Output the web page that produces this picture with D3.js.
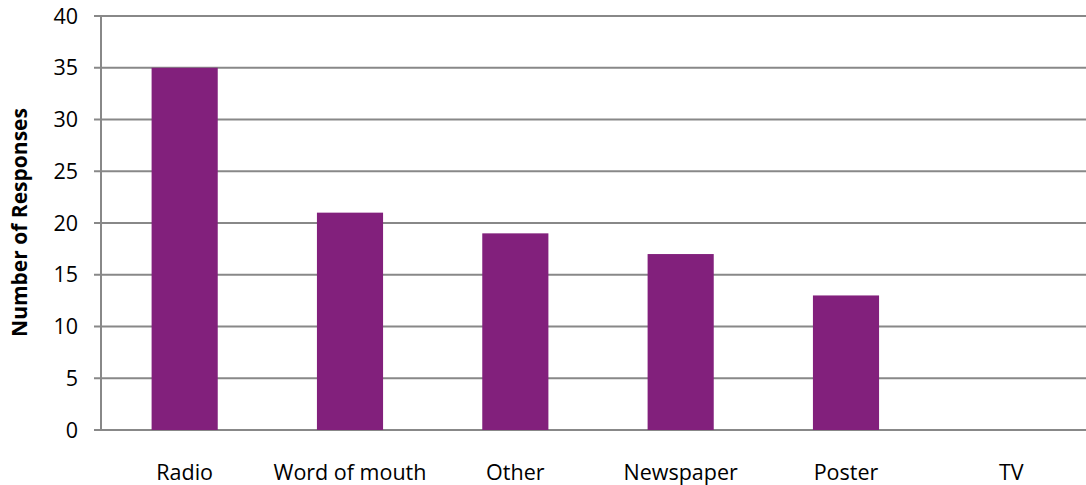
<!DOCTYPE html>
<html><head><meta charset="utf-8">
<script src="https://cdn.jsdelivr.net/npm/d3@7"></script>
<style>body{margin:0;background:#fff}svg{display:block}text{font-family:"Open Sans",sans-serif}</style>
</head><body>
<svg id="c" width="1086" height="485"></svg>
<script>
const categories = ["Radio","Word of mouth","Other","Newspaper","Poster","TV"];
const values = [35,21,19,17,13,0];
const yTicks = [0,5,10,15,20,25,30,35,40];

const svg = d3.select("#c");
const mLeft = 101, mRight = 1094, mTop = 16, mBottom = 430;
const x = d3.scaleBand().domain(categories).range([mLeft+1, mRight]).paddingInner(0.6).paddingOuter(0.3);
const y = d3.scaleLinear().domain([0,40]).range([mBottom, mTop]);

// gridlines
svg.append("g").selectAll("line").data(yTicks).join("line")
  .attr("x1", mLeft-7).attr("x2", mRight).attr("y1", d=>y(d)).attr("y2", d=>y(d))
  .attr("stroke", "#888").attr("stroke-width", 2);
// left axis
svg.append("line").attr("x1", mLeft).attr("x2", mLeft).attr("y1", mTop).attr("y2", mBottom)
  .attr("stroke", "#888").attr("stroke-width", 2);

// bars
svg.append("g").selectAll("rect").data(values).join("rect")
  .attr("x", (d,i)=>x(categories[i])).attr("width", x.bandwidth())
  .attr("y", d=>y(d)).attr("height", d=>mBottom - y(d))
  .attr("fill", "#82207C");

// y tick labels
svg.append("g").selectAll("text").data(yTicks).join("text")
  .attr("x", 78).attr("y", d=>y(d)).attr("dy", "0.36em")
  .attr("text-anchor", "end").attr("font-size", 21.5).attr("fill", "#000").text(d=>d);

// x labels
svg.append("g").selectAll("text").data(categories).join("text")
  .attr("x", d=>x(d)+x.bandwidth()/2).attr("y", 480)
  .attr("text-anchor", "middle").attr("font-size", 21.5).attr("fill", "#000").text(d=>d);

// y title
svg.append("text").attr("transform", `translate(27,222.5) rotate(-90)`)
  .attr("text-anchor", "middle").attr("font-size", 21).attr("font-weight", "bold").text("Number of Responses");
</script>
</body></html>
